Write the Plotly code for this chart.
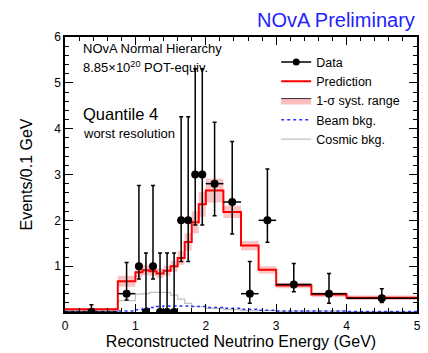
import plotly.graph_objects as go

# ---------------- data ----------------
bin_edges = [0.0, 0.75, 1.0, 1.1, 1.2, 1.3, 1.4, 1.5, 1.6, 1.7, 1.8, 1.9, 2.0,
             2.25, 2.5, 2.75, 3.0, 3.5, 4.0, 5.0]
prediction = [0.06, 0.67, 0.87, 0.91, 0.89, 0.84, 0.90, 1.00, 1.18, 1.53, 1.96,
              2.35, 2.65, 2.18, 1.45, 0.92, 0.58, 0.38, 0.31]
syst_lo = [0.03, 0.55, 0.76, 0.80, 0.78, 0.74, 0.79, 0.88, 1.03, 1.34, 1.72,
           2.08, 2.39, 2.05, 1.35, 0.84, 0.52, 0.33, 0.26]
syst_hi = [0.09, 0.79, 0.98, 1.02, 1.00, 0.95, 1.01, 1.12, 1.33, 1.72, 2.20,
           2.62, 2.91, 2.32, 1.55, 1.00, 0.64, 0.43, 0.36]
beam_bkg = [0.01, 0.02, 0.05, 0.08, 0.10, 0.12, 0.13, 0.13, 0.13, 0.13, 0.12,
            0.12, 0.10, 0.08, 0.06, 0.04, 0.02, 0.02, 0.01]
cosmic_bkg = [0.03, 0.25, 0.39, 0.40, 0.43, 0.43, 0.43, 0.37, 0.28, 0.19, 0.12,
              0.12, 0.08, 0.05, 0.03, 0.03, 0.02, 0.02, 0.01]

data_x = [0.375, 0.875, 1.05, 1.15, 1.25, 1.35, 1.45, 1.55, 1.65, 1.75, 1.85,
          1.95, 2.125, 2.375, 2.625, 2.875, 3.25, 3.75, 4.5]
data_y = [0.0, 0.4, 1.0, 0.0, 1.0, 0.0, 0.0, 0.0, 2.0, 2.0, 3.0, 3.0, 2.8, 2.4,
          0.4, 2.0, 0.6, 0.4, 0.3]
data_hi = [0.16, 1.08, 2.76, 1.29, 2.76, 1.29, 1.29, 1.29, 4.26, 4.26, 5.31,
           5.31, 4.14, 3.72, 1.10, 3.12, 1.06, 0.84, 0.51]
data_lo = [0.0, 0.26, 0.72, 0.0, 0.72, 0.0, 0.0, 0.0, 1.10, 1.10, 1.90, 1.90,
           2.10, 1.70, 0.19, 1.52, 0.44, 0.19, 0.21]

y_tickvals = [0, 1, 2, 3, 4, 5, 6]
y_ticktext = ["", "1", "2", "3", "4", "5", "6"]
x_tickvals = [0, 1, 2, 3, 4, 5]

# ---------------- helpers ----------------
def step(vals):
    return list(vals) + [vals[-1]]

half_w = [(bin_edges[i + 1] - bin_edges[i]) / 2 for i in range(len(bin_edges) - 1)]

FONT = "Liberation Sans, Arial, sans-serif"

fig = go.Figure()

# syst band
fig.add_trace(go.Scatter(x=bin_edges, y=step(syst_lo), mode="lines", line_shape="hv",
                         line=dict(width=0, color="rgba(0,0,0,0)"), showlegend=False,
                         hoverinfo="skip"))
fig.add_trace(go.Scatter(x=bin_edges, y=step(syst_hi), mode="lines", line_shape="hv",
                         fill="tonexty", fillcolor="rgba(248,160,160,0.62)",
                         line=dict(width=0, color="rgba(0,0,0,0)"), showlegend=False,
                         hoverinfo="skip"))
# cosmic
fig.add_trace(go.Scatter(x=bin_edges, y=step(cosmic_bkg), mode="lines", line_shape="hv",
                         line=dict(color="#c0c0c0", width=1.2), name="Cosmic bkg.",
                         legendrank=5))
# beam
fig.add_trace(go.Scatter(x=bin_edges, y=step(beam_bkg), mode="lines", line_shape="hv",
                         line=dict(color="#3030ff", width=1.5, dash="dot"), name="Beam bkg.",
                         legendrank=4))
# legend-only syst entry
fig.add_trace(go.Scatter(x=[None], y=[None], mode="lines", fill="toself",
                         fillcolor="rgba(250,190,190,1)",
                         line=dict(color="#333333", width=1), name="1-σ syst. range",
                         legendrank=3))
# prediction
fig.add_trace(go.Scatter(x=bin_edges, y=step(prediction), mode="lines", line_shape="hv",
                         line=dict(color="#ff0000", width=2), name="Prediction",
                         legendrank=2))
# data legend entry
fig.add_trace(go.Scatter(x=[None], y=[None], mode="lines+markers", name="Data", legendrank=1,
                         line=dict(color="black", width=1.5),
                         marker=dict(color="black", size=7)))
# data
fig.add_trace(go.Scatter(
    x=data_x, y=data_y, mode="markers", name="Data", showlegend=False,
    marker=dict(color="black", size=8, symbol="circle"),
    error_y=dict(type="data", symmetric=False,
                 array=[h - y for h, y in zip(data_hi, data_y)],
                 arrayminus=[y - l for l, y in zip(data_lo, data_y)],
                 color="black", thickness=1.5, width=2),
    error_x=dict(type="data", array=half_w, color="black", thickness=1.5, width=0),
))

fig.add_annotation(x=1.0, y=1.0, xref="paper", yref="paper", xanchor="right", yanchor="bottom",
                   xshift=0, yshift=4, text="NOvA Preliminary", showarrow=False,
                   font=dict(family=FONT, size=20, color="#2222ff"))
notes = [("NOvA Normal Hierarchy", 49, 13), ("8.85×10<sup>20</sup> POT-equiv.", 68, 13),
         ("Quantile 4", 116, 16.5), ("worst resolution", 136, 13)]
for txt, ypx, fs in notes:
    fig.add_annotation(x=0.045, y=(319 - ypx) / 282, xref="paper", yref="paper",
                       xanchor="left", yanchor="middle", text=txt, showarrow=False,
                       font=dict(family=FONT, size=fs, color="black"))

axis_common = dict(showline=True, linecolor="black", linewidth=1.5, mirror="allticks",
                   ticks="inside", tickcolor="black", ticklen=8, tickwidth=1,
                   showgrid=False, zeroline=False,
                   tickfont=dict(family=FONT, size=12, color="black"))

fig.update_layout(
    width=428, height=353, margin=dict(l=65, r=7, t=37, b=34),
    paper_bgcolor="white", plot_bgcolor="white",
    font=dict(family=FONT, color="black"),
    xaxis=dict(range=[0, 5], tickvals=x_tickvals, ticklabelstandoff=2,
               title=dict(text="Reconstructed Neutrino Energy (GeV)", standoff=2,
                          font=dict(family=FONT, size=16)),
               minor=dict(ticks="inside", dtick=0.2, ticklen=4, tickcolor="black"),
               **axis_common),
    yaxis=dict(range=[0, 6], tickvals=y_tickvals, ticktext=y_ticktext,
               title=dict(text="Events/0.1 GeV", standoff=18,
                          font=dict(family=FONT, size=16)),
               minor=dict(ticks="inside", dtick=0.2, ticklen=4, tickcolor="black"),
               **axis_common),
    legend=dict(x=0.60, y=0.962, xanchor="left", yanchor="top", traceorder="normal",
                bgcolor="rgba(0,0,0,0)", font=dict(family=FONT, size=12.5),
                tracegroupgap=0, itemwidth=30),
    showlegend=True,
)

fig.write_html("out.html")
